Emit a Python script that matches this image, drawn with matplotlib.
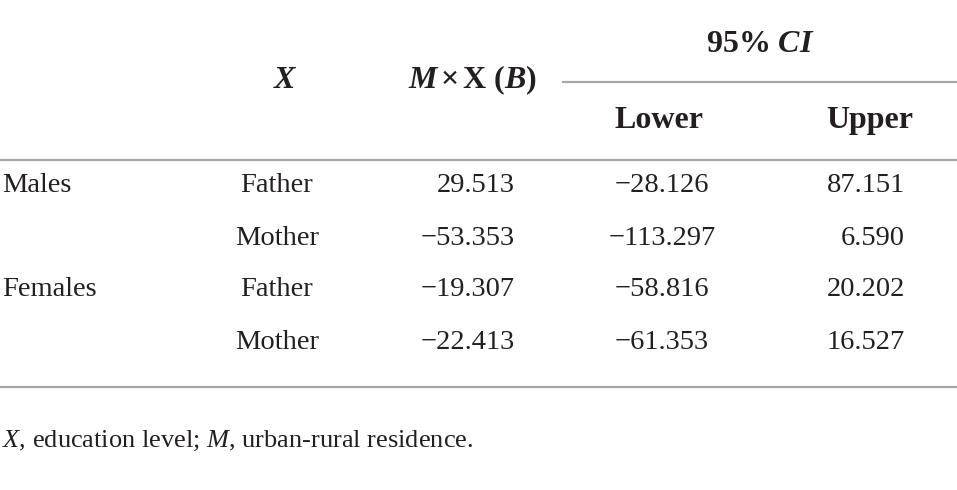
import matplotlib
matplotlib.use("Agg")
import matplotlib.pyplot as plt
from matplotlib.lines import Line2D

plt.rcParams['font.family'] = ['Liberation Serif', 'DejaVu Serif']
plt.rcParams['mathtext.fontset'] = 'custom'
plt.rcParams['mathtext.rm'] = 'Liberation Serif'
plt.rcParams['mathtext.it'] = 'Liberation Serif:italic'
plt.rcParams['mathtext.bf'] = 'Liberation Serif:bold'
plt.rcParams['mathtext.bfit'] = 'Liberation Serif:bold:italic'

groups = ["Males", "", "Females", ""]
parents = ["Father", "Mother", "Father", "Mother"]
effect_b = ["29.513", "−53.353", "−19.307", "−22.413"]
ci_lower = ["−28.126", "−113.297", "−58.816", "−61.353"]
ci_upper = ["87.151", "6.590", "20.202", "16.527"]
note = r"$\mathit{X}$, education level; $\mathit{M}$, urban-rural residence."

W, H = 957, 490
fig = plt.figure(figsize=(W / 100, H / 100), dpi=100)
ink = "#231f20"
rule = "#a6a6a6"


def px(x, y):
    return x / W, 1 - y / H


def hline(x0, x1, y):
    fig.add_artist(Line2D([x0 / W, x1 / W], [1 - y / H, 1 - y / H],
                          color=rule, lw=1.6, transform=fig.transFigure))


hdr = dict(fontsize=23, color=ink, fontweight='bold', va='center')
fig.text(*px(760, 44), r"$\mathbf{95\%}\ \mathbfit{CI}$", ha='center', **hdr)
fig.text(*px(285, 80), r"$\mathbfit{X}$", ha='center', **hdr)
fig.text(*px(472, 80),
         r"$\mathbfit{M}\,\mathbf{\times}\,\mathbf{X\ (}\mathbfit{B}\mathbf{)}$",
         ha='center', **hdr)
fig.text(*px(659, 120), "Lower", ha='center', **hdr)
fig.text(*px(870, 120), "Upper", ha='center', **hdr)

hline(563, 957, 82)
hline(0, 957, 160)
hline(0, 957, 387)

row_y = [185, 238, 290, 342]
cell = dict(fontsize=20.5, color=ink, va='center')
for i, y in enumerate(row_y):
    fig.text(*px(2, y), groups[i], ha='left', **cell)
    fig.text(*px(277, y), parents[i], ha='center', **cell)
    fig.text(*px(515, y), effect_b[i], ha='right', **cell)
    fig.text(*px(662, y), ci_lower[i], ha='center', **cell)
    fig.text(*px(905, y), ci_upper[i], ha='right', **cell)

fig.text(*px(2, 441), note, ha='left', fontsize=19, color=ink, va='center')

fig.savefig("out.png", dpi=100)
